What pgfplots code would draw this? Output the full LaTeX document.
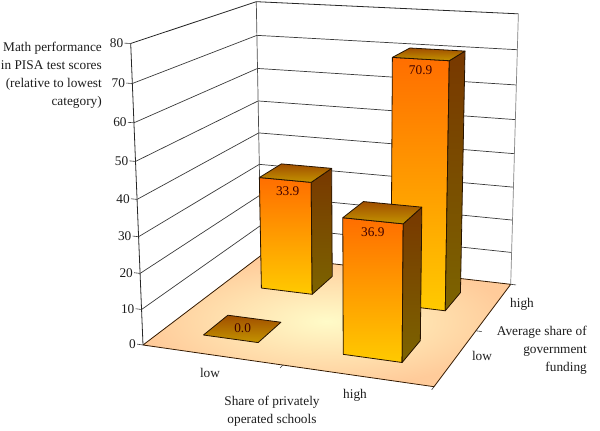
\documentclass[border=0pt]{standalone}
\usepackage{fontspec}
\setmainfont{Liberation Serif}
\usepackage{pgfplots}
\pgfplotsset{compat=1.18}
% floor position a,b in 0..1, value v in 0..80 -> picture pixel
\tikzset{declare function={
  pw(\a,\b)=1-0.07314*\a+0.18786*\b;
  fx(\a,\b)=(259.26*\a+167.03*\b+143)/pw(\a,\b);
  fy(\a,\b)=(13.42*\a-41.5*\b+345)/pw(\a,\b);
  zt(\v)=(\v/80)*0.934/(1-0.066*\v/80);
  px(\a,\b,\v)=fx(\a,\b)+0.0567*zt(\v)*(fx(\a,\b)-360)/pw(\a,\b);
  py(\a,\b,\v)=fy(\a,\b)-301.5*zt(\v)/pw(\a,\b);
}}
\definecolor{txt}{HTML}{1C1C1C}
\definecolor{grid}{HTML}{3A3A3A}
\definecolor{frontT}{HTML}{FF6E00}
\definecolor{frontB}{HTML}{FFCA00}
\definecolor{sideT}{HTML}{783800}
\definecolor{sideB}{HTML}{7C6400}
\definecolor{topT}{HTML}{A04E00}
\definecolor{topB}{HTML}{C49400}
\definecolor{floorI}{HTML}{FFFBC8}
\definecolor{floorO}{HTML}{FFCB9A}
\pgfplotsset{
  table/pix/.style={row sep=\\,
    x expr={px(\thisrow{a},\thisrow{b},\thisrow{v})},
    y expr={py(\thisrow{a},\thisrow{b},\thisrow{v})}},
  face/.style={draw=black!85!orange, line width=0.8pt, line join=round},
}
\newcommand\topface[5]{%
  \addplot[face, top color=topT, bottom color=topB] table[pix]
    {a b v\\ #1 #3 #5\\ #2 #3 #5\\ #2 #4 #5\\ #1 #4 #5\\ #1 #3 #5\\};}
\newcommand\drawbar[5]{%
  \addplot[face, top color=frontT, bottom color=frontB] table[pix]
    {a b v\\ #1 #3 0\\ #2 #3 0\\ #2 #3 #5\\ #1 #3 #5\\ #1 #3 0\\};
  \addplot[face, top color=sideT, bottom color=sideB] table[pix]
    {a b v\\ #2 #3 0\\ #2 #4 0\\ #2 #4 #5\\ #2 #3 #5\\ #2 #3 0\\};
  \topface{#1}{#2}{#3}{#4}{#5}}
\newcommand\lab{\fontsize{13.3}{18}\selectfont}
\newcommand\barlabel[3]{%
  \addplot[draw=none, point meta=\thisrow{v},
    nodes near coords={\pgfmathprintnumber[fixed,fixed zerofill,precision=1]{\pgfplotspointmeta}},
    every node near coord/.append style={font=\lab, text=black!75!red, anchor=#2, inner sep=#3}]
    table[pix] {a b v\\ #1\\};}
\begin{document}
\begin{tikzpicture}
\useasboundingbox (0,0) rectangle (600pt,431pt);
\begin{axis}[
  at={(0,0)}, anchor=south west,
  scale only axis, width=600pt, height=431pt,
  xmin=0, xmax=600, ymin=0, ymax=431, y dir=reverse,
  hide axis, clip=false,
  /pgf/number format/assume math mode=true,
]
% floor
\addplot[draw=black!80!orange, line width=0.8pt, shading=radial, inner color=floorI, outer color=floorO]
  table[pix] {a b v\\ 0 0 0\\ 1 0 0\\ 1 1 0\\ 0 1 0\\ 0 0 0\\};
% side and back walls: grid lines
\addplot[draw=grid, line width=0.7pt] table[pix] {a b v\\ 0 0 10\\ 0 1 10\\ 1 1 10\\};
\addplot[draw=grid, line width=0.7pt] table[pix] {a b v\\ 0 0 20\\ 0 1 20\\ 1 1 20\\};
\addplot[draw=grid, line width=0.7pt] table[pix] {a b v\\ 0 0 30\\ 0 1 30\\ 1 1 30\\};
\addplot[draw=grid, line width=0.7pt] table[pix] {a b v\\ 0 0 40\\ 0 1 40\\ 1 1 40\\};
\addplot[draw=grid, line width=0.7pt] table[pix] {a b v\\ 0 0 50\\ 0 1 50\\ 1 1 50\\};
\addplot[draw=grid, line width=0.7pt] table[pix] {a b v\\ 0 0 60\\ 0 1 60\\ 1 1 60\\};
\addplot[draw=grid, line width=0.7pt] table[pix] {a b v\\ 0 0 70\\ 0 1 70\\ 1 1 70\\};
\addplot[draw=black!85, line width=0.8pt] table[pix] {a b v\\ 0 0 80\\ 0 1 80\\ 1 1 80\\};
% wall edges
\addplot[draw=black!85, line width=0.8pt] table[pix] {a b v\\ 0 0 0\\ 0 0 80\\};
\addplot[draw=black!70, line width=0.7pt] table[pix] {a b v\\ 0 1 0\\ 0 1 80\\};
\addplot[draw=black!50, line width=0.7pt] table[pix] {a b v\\ 1 1 0\\ 1 1 80\\};
% value axis ticks
\pgfplotsinvokeforeach{0,10,20,30,40,50,60,70,80}{
  \addplot[draw=grid, line width=0.6pt] table[pix] {a b v\\ -0.022 0 #1\\ 0 0 #1\\};
}
\addplot[draw=none, point meta=\thisrow{v},
  nodes near coords={\pgfmathprintnumber{\pgfplotspointmeta}},
  every node near coord/.append style={font=\lab, text=txt, anchor=east, inner sep=1pt}]
  table[pix] {a b v\\ -0.022 0 0\\ -0.022 0 10\\ -0.022 0 20\\ -0.022 0 30\\ -0.022 0 40\\ -0.022 0 50\\ -0.022 0 60\\ -0.022 0 70\\ -0.022 0 80\\};
% floor edge ticks
\addplot[draw=grid, line width=0.6pt] table[pix] {a b v\\ 0.5 0 0\\ 0.5 -0.025 0\\};
\addplot[draw=grid, line width=0.6pt] table[pix] {a b v\\ 1 0 0\\ 1 -0.025 0\\};
\addplot[draw=grid, line width=0.6pt] table[pix] {a b v\\ 1 0.5 0\\ 1.02 0.5 0\\};
\addplot[draw=grid, line width=0.6pt] table[pix] {a b v\\ 1 1 0\\ 1.02 1 0\\};
% bars, back to front
\drawbar{0.15}{0.35}{0.65}{0.86}{33.9}
\drawbar{0.65}{0.85}{0.65}{0.85}{70.9}
\topface{0.15}{0.35}{0.15}{0.35}{0}
\drawbar{0.65}{0.85}{0.15}{0.35}{36.9}
% bar values
\barlabel{0.26 0.65 33.9}{north}{6pt}
\barlabel{0.75 0.65 70.9}{north}{6.5pt}
\barlabel{0.25 0.25 0}{center}{3pt}
\barlabel{0.75 0.15 36.9}{north}{6.5pt}
% texts
\node[font=\lab, text=txt, align=right, anchor=north east, inner sep=0pt] at (axis cs:102,42) {Math performance\\in PISA test scores\\(relative to lowest\\category)};
\node[font=\lab, text=txt] at (axis cs:210,373) {low};
\node[font=\lab, text=txt] at (axis cs:355,395) {high};
\node[font=\lab, text=txt] at (axis cs:522,304) {high};
\node[font=\lab, text=txt] at (axis cs:482,356) {low};
\node[font=\lab, text=txt, align=center, anchor=north, inner sep=0pt] at (axis cs:272,396) {Share of privately\\operated schools};
\node[font=\lab, text=txt, align=right, anchor=north east, inner sep=0pt] at (axis cs:587,326) {Average share of\\government\\funding};
\end{axis}
\end{tikzpicture}
\end{document}
